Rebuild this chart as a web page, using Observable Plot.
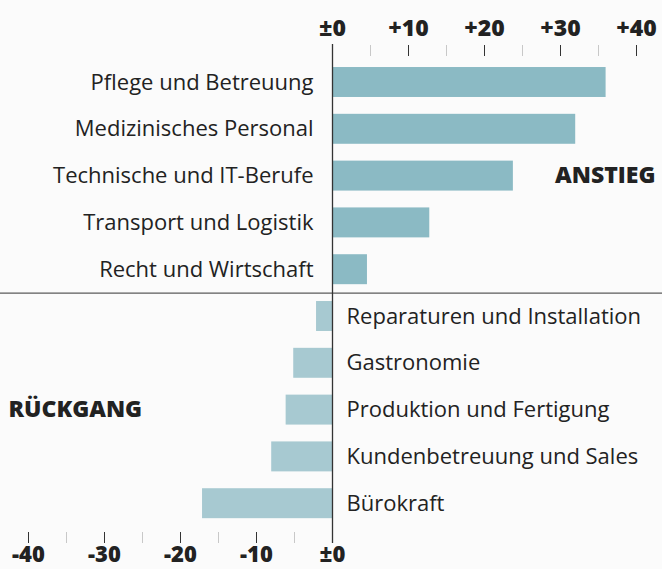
<!DOCTYPE html>
<html>
<head>
<meta charset="utf-8">
<script src="https://cdn.jsdelivr.net/npm/d3@7"></script>
<script src="https://cdn.jsdelivr.net/npm/@observablehq/plot@0.6"></script>
<style>
  html, body { margin: 0; padding: 0; background: #fbfbfb; }
</style>
</head>
<body>
<div id="chart"></div>
<script>
const categories = [
  "Pflege und Betreuung",
  "Medizinisches Personal",
  "Technische und IT-Berufe",
  "Transport und Logistik",
  "Recht und Wirtschaft",
  "Reparaturen und Installation",
  "Gastronomie",
  "Produktion und Fertigung",
  "Kundenbetreuung und Sales",
  "Bürokraft"
];
const values = [36, 32, 23.8, 12.8, 4.6, -2.1, -5.1, -6.1, -8.0, -17.1];
const topTicks = [0, 10, 20, 30, 40];
const topMinor = [5, 15, 25, 35];
const bottomTicks = [-40, -30, -20, -10, 0];
const bottomMinor = [-35, -25, -15, -5];
const groupLabels = [
  { label: "ANSTIEG", row: "Technische und IT-Berufe", side: "right" },
  { label: "RÜCKGANG", row: "Produktion und Fertigung", side: "left" }
];

const data = categories.map((c, i) => ({ cat: c, value: values[i] }));
const fmt = d => d === 0 ? "±0" : (d > 0 ? "+" + d : "-" + Math.abs(d));

const chart = Plot.plot({
  width: 662,
  height: 569,
  marginLeft: 28,
  marginRight: 26,
  marginTop: 58.6,
  marginBottom: 42.4,
  x: { domain: [-40, 40], axis: null, label: null },
  y: { domain: categories, axis: null, paddingInner: 0.36, paddingOuter: 0.18, round: false },
  style: { background: "#fbfbfb", fontFamily: "'Open Sans', sans-serif", color: "#222" },
  marks: [
    Plot.barX(data, {
      x: "value", y: "cat",
      fill: d => d.value >= 0 ? "#8bbac4" : "#a7c9d1"
    }),
    // separator
    Plot.ruleY(["Reparaturen und Installation"], {
      dy: -23.4, stroke: "#333", strokeWidth: 1, insetLeft: -28, insetRight: -26
    }),
    // zero line
    Plot.ruleX([0], { stroke: "#333", strokeWidth: 1.3, insetTop: -14.6, insetBottom: -16.4 }),
    // top ticks
    Plot.axisX(topMinor, { anchor: "top", tickSize: 11, dy: -3.6, stroke: "#c8c8c8", tickFormat: () => "", label: null }),
    Plot.axisX(topTicks.filter(d => d !== 0), { anchor: "top", tickSize: 11, dy: -3.6, stroke: "#333", tickFormat: () => "", label: null }),
    Plot.text(topTicks, {
      x: d => d, frameAnchor: "top", lineAnchor: "middle", dy: -30.5, text: fmt,
      fontSize: 23, fontWeight: 800, fill: "#222"
    }),
    // bottom ticks
    Plot.axisX(bottomMinor, { anchor: "bottom", tickSize: 11, dy: 5.4, stroke: "#c8c8c8", tickFormat: () => "", label: null }),
    Plot.axisX(bottomTicks.filter(d => d !== 0), { anchor: "bottom", tickSize: 11, dy: 5.4, stroke: "#333", tickFormat: () => "", label: null }),
    Plot.text(bottomTicks, {
      x: d => d, frameAnchor: "bottom", lineAnchor: "middle", dy: 27.5, text: fmt,
      fontSize: 22, fontWeight: 800, fill: "#222"
    }),
    // category labels
    Plot.text(data.filter(d => d.value >= 0), {
      x: 0, y: "cat", text: "cat", dx: -19, textAnchor: "end",
      fontSize: 22, fill: "#222"
    }),
    Plot.text(data.filter(d => d.value < 0), {
      x: 0, y: "cat", text: "cat", dx: 14, textAnchor: "start",
      fontSize: 22, fill: "#222"
    }),
    // group labels
    Plot.text(groupLabels.filter(d => d.side === "right"), {
      y: "row", text: "label", frameAnchor: "right", dx: 19, textAnchor: "end",
      fontSize: 23, fontWeight: 800, fill: "#222"
    }),
    Plot.text(groupLabels.filter(d => d.side === "left"), {
      y: "row", text: "label", frameAnchor: "left", dx: -20, textAnchor: "start",
      fontSize: 23, fontWeight: 800, fill: "#222"
    })
  ]
});
document.getElementById("chart").appendChild(chart);
</script>
</body>
</html>
